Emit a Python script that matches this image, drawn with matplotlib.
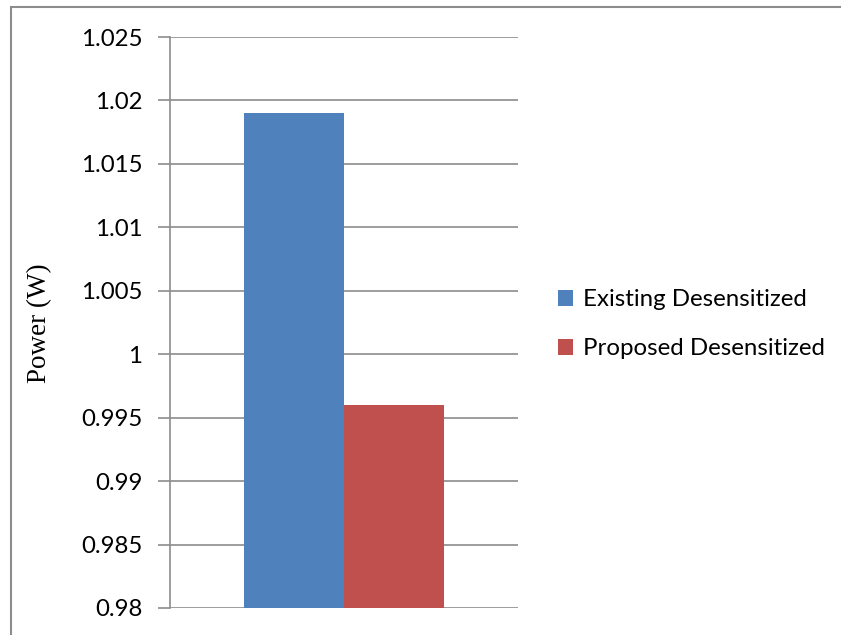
import matplotlib.pyplot as plt
from matplotlib.patches import Rectangle

# data
categories = ['']
series = ['Existing Desensitized', 'Proposed Desensitized']
values = [1.019, 0.996]
colors = ['#4F81BD', '#C0504D']
yticks = [0.98, 0.985, 0.99, 0.995, 1.0, 1.005, 1.01, 1.015, 1.02, 1.025]
ytick_labels = ['0.98', '0.985', '0.99', '0.995', '1', '1.005', '1.01', '1.015', '1.02', '1.025']

W, H = 841, 635
fig = plt.figure(figsize=(W / 100, H / 100), dpi=100)
ax = fig.add_axes([170 / W, 1 - 608 / H, 348 / W, (608 - 37) / H])

# outer chart frame (left/top visible, right/bottom beyond the image)
fig.patches.append(Rectangle((11 / W, -0.1), 1.2, 1 - 7 / H + 0.1, transform=fig.transFigure,
                             fill=False, edgecolor='#8C8C8C', linewidth=1.5))

bw = 100 / 348
offsets = [-bw / 2, bw / 2]
for name, v, c, off in zip(series, values, colors, offsets):
    ax.bar(0 + off, v - 0.98, bw, bottom=0.98, color=c, label=name, zorder=3)

ax.set_xlim(-0.5, 0.5)
ax.set_ylim(0.98, 1.025)
ax.set_xticks([])
ax.set_yticks(yticks)
ax.set_yticklabels(ytick_labels, fontfamily='Lato', fontsize=17.3)
ax.tick_params(axis='y', direction='out', length=9, width=1.2, color='#8C8C8C', pad=11)
ax.yaxis.grid(True, color='#8C8C8C', linewidth=1.2, zorder=0)

for s in ['top', 'right', 'bottom']:
    ax.spines[s].set_visible(False)
ax.spines['left'].set_color('#8C8C8C')
ax.spines['left'].set_linewidth(1.2)

fig.text(40 / W, 1 - 323 / H, 'Power (W)', rotation=90, ha='center', va='center',
         fontfamily='Liberation Serif', fontsize=19.5)

leg = ax.legend(loc='center left', bbox_to_anchor=(1.052, 0.497), frameon=False,
                prop={'family': 'Lato', 'size': 17.3}, handlelength=0.65, handleheight=0.65,
                handletextpad=0.4, labelspacing=1.15)

fig.savefig('out.png', dpi=100)
